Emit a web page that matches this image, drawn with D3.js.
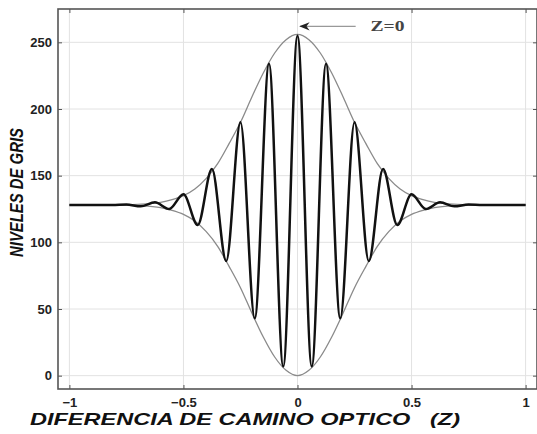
<!DOCTYPE html>
<html lang="es">

<head>
    <meta charset="UTF-8">
    <title>Interferograma</title>
    <script src="https://d3js.org/d3.v7.min.js"></script>
    <style>
        body { margin: 0; background: #fff; }
        .tick text { font-family: "Liberation Sans", Arial, sans-serif; font-weight: bold; font-size: 13px; fill: #222; }
    </style>
</head>

<body>

    <svg width="537" height="434" id="mainsvg"></svg>

    <script>
        // tick labels
        const xTicks = [-1, -0.5, 0, 0.5, 1];
        const yTicks = [0, 50, 100, 150, 200, 250];

        // envelope (gray curves)
        const envelopeZ = [-1, -0.8, -0.7, -0.6, -0.55, -0.5, -0.45, -0.4, -0.35, -0.3, -0.25, -0.2, -0.15, -0.1, -0.05, 0,
            0.05, 0.1, 0.15, 0.2, 0.25, 0.3, 0.35, 0.4, 0.45, 0.5, 0.55, 0.6, 0.7, 0.8, 1];
        const envelopeUpper = [128, 128, 128.5, 130, 132, 135, 140, 148, 159, 174, 190, 209, 227, 242, 252, 256,
            252, 242, 227, 209, 190, 174, 159, 148, 140, 135, 132, 130, 128.5, 128, 128];
        const envelopeLower = [128, 128, 127.5, 126, 124, 121, 116, 108, 97, 82, 66, 47, 29, 14, 4, 0,
            4, 14, 29, 47, 66, 82, 97, 108, 116, 121, 124, 126, 127.5, 128, 128];

        // interference signal: maxima and minima (black curve)
        const signalZ = [-1, -0.875, -0.8125, -0.75, -0.6875, -0.625, -0.5625, -0.5, -0.4375, -0.375, -0.3125, -0.25, -0.1875, -0.125, -0.0625, 0,
            0.0625, 0.125, 0.1875, 0.25, 0.3125, 0.375, 0.4375, 0.5, 0.5625, 0.625, 0.6875, 0.75, 0.8125, 0.875, 1];
        const signalLevel = [128, 128, 128, 128.3, 127, 130, 125, 136, 113, 155, 86, 190, 43, 234, 7, 255,
            7, 234, 43, 190, 86, 155, 113, 136, 125, 130, 127, 128.3, 128, 128, 128];

        const svg = d3.select('#mainsvg');
        const margin = { top: 9, right: 0, bottom: 45, left: 58 };
        const width = +svg.attr('width');
        const height = +svg.attr('height');
        const innerWidth = width - margin.left - margin.right;
        const innerHeight = height - margin.top - margin.bottom;

        const xScale = d3.scaleLinear().domain([-1.05, 1.05]).range([0, innerWidth]);
        const yScale = d3.scaleLinear().domain([-10, 275]).range([innerHeight, 0]);

        const g = svg.append('g')
            .attr('transform', `translate(${margin.left},${margin.top})`);

        // grid
        g.selectAll('.vgrid').data(xTicks).enter().append('line')
            .attr('x1', d => xScale(d)).attr('x2', d => xScale(d))
            .attr('y1', 0).attr('y2', innerHeight)
            .attr('stroke', '#e2e2e2').attr('stroke-width', 1);
        g.selectAll('.hgrid').data(yTicks).enter().append('line')
            .attr('y1', d => yScale(d)).attr('y2', d => yScale(d))
            .attr('x1', 0).attr('x2', innerWidth)
            .attr('stroke', '#e2e2e2').attr('stroke-width', 1);

        // axes, ticks pointing inward
        const xAxis = g.append('g').attr('transform', `translate(0,${innerHeight})`)
            .call(d3.axisBottom(xScale).tickValues(xTicks).tickSizeInner(-4).tickSizeOuter(0).tickPadding(9).tickFormat(d3.format('')));
        const xAxisTop = g.append('g')
            .call(d3.axisTop(xScale).tickValues(xTicks).tickSizeInner(-4).tickSizeOuter(0).tickFormat(''));
        const yAxis = g.append('g')
            .call(d3.axisLeft(yScale).tickValues(yTicks).tickSizeInner(-4).tickSizeOuter(0).tickPadding(6));
        const yAxisRight = g.append('g').attr('transform', `translate(${innerWidth},0)`)
            .call(d3.axisRight(yScale).tickValues(yTicks).tickSizeInner(-4).tickSizeOuter(0).tickFormat(''));
        [xAxis, xAxisTop, yAxis, yAxisRight].forEach(a => {
            a.select('.domain').remove();
            a.selectAll('.tick line').attr('stroke', '#555');
        });

        // envelope
        const envLine = d3.line()
            .x((d, i) => xScale(envelopeZ[i]))
            .y(d => yScale(d))
            .curve(d3.curveMonotoneX);
        [envelopeUpper, envelopeLower].forEach(series => {
            g.append('path')
                .attr('d', envLine(series))
                .attr('fill', 'none')
                .attr('stroke', '#8a8a8a')
                .attr('stroke-width', 1.3);
        });

        // signal
        const sigLine = d3.line()
            .x((d, i) => xScale(signalZ[i]))
            .y(d => yScale(d))
            .curve(d3.curveMonotoneX);
        g.append('path')
            .attr('d', sigLine(signalLevel))
            .attr('fill', 'none')
            .attr('stroke', '#111')
            .attr('stroke-width', 2.5)
            .attr('stroke-linejoin', 'round');

        // box
        g.append('rect')
            .attr('x', 0).attr('y', 0)
            .attr('width', innerWidth).attr('height', innerHeight)
            .attr('fill', 'none')
            .attr('stroke', '#555').attr('stroke-width', 1.6);

        // annotation Z=0
        svg.append('defs').append('marker')
            .attr('id', 'arrow')
            .attr('viewBox', '0 0 10 10')
            .attr('refX', 9).attr('refY', 5)
            .attr('markerWidth', 8).attr('markerHeight', 8)
            .attr('orient', 'auto')
            .append('path')
            .attr('d', 'M0,1 L10,5 L0,9 L3,5 Z')
            .attr('fill', '#222');
        g.append('line')
            .attr('x1', xScale(0.255)).attr('x2', xScale(0.012))
            .attr('y1', yScale(262)).attr('y2', yScale(262))
            .attr('stroke', '#999').attr('stroke-width', 1.3)
            .attr('marker-end', 'url(#arrow)');
        g.append('text')
            .attr('x', xScale(0.32)).attr('y', yScale(262))
            .attr('dy', '0.35em')
            .attr('font-family', '"Liberation Serif", "DejaVu Serif", serif')
            .attr('font-weight', 'bold')
            .attr('font-size', 14)
            .attr('textLength', 34)
            .attr('lengthAdjust', 'spacingAndGlyphs')
            .attr('fill', '#444')
            .text('Z=0');

        // axis titles
        svg.append('text')
            .attr('x', 30).attr('y', 425)
            .attr('font-family', '"Liberation Sans", Arial, sans-serif')
            .attr('font-weight', 'bold').attr('font-style', 'italic')
            .attr('font-size', 17)
            .attr('textLength', 430)
            .attr('lengthAdjust', 'spacingAndGlyphs')
            .attr('fill', '#111')
            .attr('xml:space', 'preserve')
            .text('DIFERENCIA DE CAMINO OPTICO   (Z)');
        svg.append('text')
            .attr('transform', 'translate(23,257) rotate(-90)')
            .attr('font-family', '"Liberation Sans", Arial, sans-serif')
            .attr('font-weight', 'bold').attr('font-style', 'italic')
            .attr('font-size', 19)
            .attr('textLength', 129)
            .attr('lengthAdjust', 'spacingAndGlyphs')
            .attr('fill', '#111')
            .text('NIVELES DE GRIS');
    </script>
</body>

</html>
